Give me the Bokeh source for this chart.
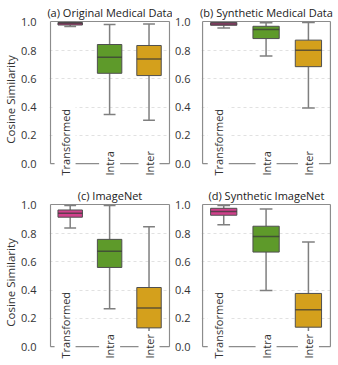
import math
from bokeh.plotting import figure
from bokeh.models import Range1d, FixedTicker, NumeralTickFormatter, ColumnDataSource
from bokeh.core.properties import value
from bokeh.layouts import column, row
from bokeh.embed import file_html
from bokeh.resources import INLINE

categories = ["Transformed", "Intra", "Inter"]
titles = ["(a) Original Medical Data", "(b) Synthetic Medical Data",
          "(c) ImageNet", "(d) Synthetic ImageNet"]

# box statistics per panel: [Transformed, Intra, Inter]
low = [[0.972, 0.348, 0.308], [0.960, 0.763, 0.394],
       [0.840, 0.269, 0.000], [0.863, 0.397, 0.000]]
q1 = [[0.982, 0.640, 0.624], [0.980, 0.886, 0.687],
      [0.917, 0.561, 0.133], [0.931, 0.670, 0.138]]
med = [[0.993, 0.753, 0.741], [0.990, 0.950, 0.804],
       [0.945, 0.676, 0.274], [0.957, 0.780, 0.262]]
q3 = [[1.000, 0.844, 0.837], [1.000, 0.973, 0.875],
      [0.968, 0.760, 0.419], [0.980, 0.853, 0.377]]
high = [[1.000, 0.985, 0.989], [0.998, 0.998, 1.000],
        [1.000, 1.000, 0.849], [1.000, 0.975, 0.742]]

y_ticks = [0.0, 0.2, 0.4, 0.6, 0.8, 1.0]
colors = ["#d1408c", "#5e9a2a", "#d4a01c"]
label_dx = [-0.13, 0.0, 0.0]
FONT = "Open Sans"
TXT = "#333333"
SPINE = "#8c8c8c"

XL, XR = -0.5, 2.52        # spine positions (x)
YB, YT = 0.0, 1.007        # spine positions (y)
XPAD = 0.025
YLOW = -0.105              # room below zero for the category labels


def panel(i, width, height, bl, br, bt, bb, ylabel, standoff):
    p = figure(width=width, height=height, output_backend="svg", toolbar_location=None,
               x_range=Range1d(XL - XPAD, XR + XPAD), y_range=Range1d(YLOW, YT + 0.007),
               min_border_left=bl, min_border_right=br, min_border_top=bt,
               min_border_bottom=bb)
    p.xaxis.visible = False
    p.xgrid.visible = False
    p.outline_line_color = None
    p.background_fill_color = "white"
    p.border_fill_color = "white"
    p.title.text = titles[i]
    p.title.align = "center"
    p.title.text_font = FONT
    p.title.text_font_size = "11px"
    p.title.text_font_style = "normal"
    p.title.text_color = "#222222"
    p.title.standoff = 2
    ax = p.yaxis[0]
    ax.ticker = FixedTicker(ticks=y_ticks)
    ax.formatter = NumeralTickFormatter(format="0.0")
    ax.axis_line_color = None
    ax.major_tick_line_color = None
    ax.minor_tick_line_color = None
    ax.major_label_text_font = FONT
    ax.major_label_text_font_size = "11px"
    ax.major_label_text_color = TXT
    ax.major_label_standoff = standoff
    if ylabel:
        ax.axis_label = ylabel
        ax.axis_label_text_font = FONT
        ax.axis_label_text_font_size = "11.5px"
        ax.axis_label_text_font_style = "normal"
        ax.axis_label_text_color = TXT
        ax.axis_label_standoff = 0
    p.ygrid.ticker = FixedTicker(ticks=y_ticks[1:-1])
    p.ygrid.grid_line_color = "#d9d9d9"
    p.ygrid.grid_line_dash = "3 3"
    p.ygrid.grid_line_width = 0.8

    # frame spines (left, right, top, bottom at zero)
    p.segment(x0=[XL, XR, XL, XL], y0=[YB, YB, YT, YB], x1=[XL, XR, XR, XR], y1=[YT, YT, YT, YB],
              line_color=SPINE, line_width=1.2)

    xs = list(range(len(categories)))
    src = ColumnDataSource(dict(x=xs, low=low[i], q1=q1[i], med=med[i], q3=q3[i],
                                high=high[i], color=colors,
                                cl=[x - 0.15 for x in xs], cr=[x + 0.15 for x in xs],
                                bl=[x - 0.31 for x in xs], br=[x + 0.31 for x in xs],
                                lx=[x + d for x, d in zip(xs, label_dx)],
                                ly=[YLOW] * len(xs), txt=categories))
    wc = "#7f7f7f"
    p.segment(x0="x", y0="q3", x1="x", y1="high", source=src, line_color=wc, line_width=1.5)
    p.segment(x0="x", y0="q1", x1="x", y1="low", source=src, line_color=wc, line_width=1.5)
    p.segment(x0="cl", y0="high", x1="cr", y1="high", source=src, line_color=wc, line_width=1.5)
    p.segment(x0="cl", y0="low", x1="cr", y1="low", source=src, line_color=wc, line_width=1.5)
    p.vbar(x="x", width=0.62, bottom="q1", top="q3", source=src, fill_color="color",
           line_color="#4f4f4f", line_width=1)
    p.segment(x0="bl", y0="med", x1="br", y1="med", source=src, line_color="#3a3a3a",
              line_alpha=0.75, line_width=1.5)

    p.text(x="lx", y="ly", text="txt", source=src, angle=math.pi / 2,
           text_align="left", text_baseline="middle",
           text_font=value(FONT), text_font_size="11px", text_color=TXT,
           background_fill_color="white", padding=3)
    return p


pa = panel(0, 172, 182, 38, 2, 20, 4, "Cosine Similarity", 7)
pb = panel(1, 166, 182, 26, 7, 20, 4, None, 5)
pc = panel(2, 172, 183, 38, 2, 21, 4, "Cosine Similarity", 7)
pd = panel(3, 166, 183, 26, 7, 21, 4, None, 5)

layout = column(row(pa, pb), row(pc, pd))
open("out.html", "w").write(file_html(layout, INLINE))
